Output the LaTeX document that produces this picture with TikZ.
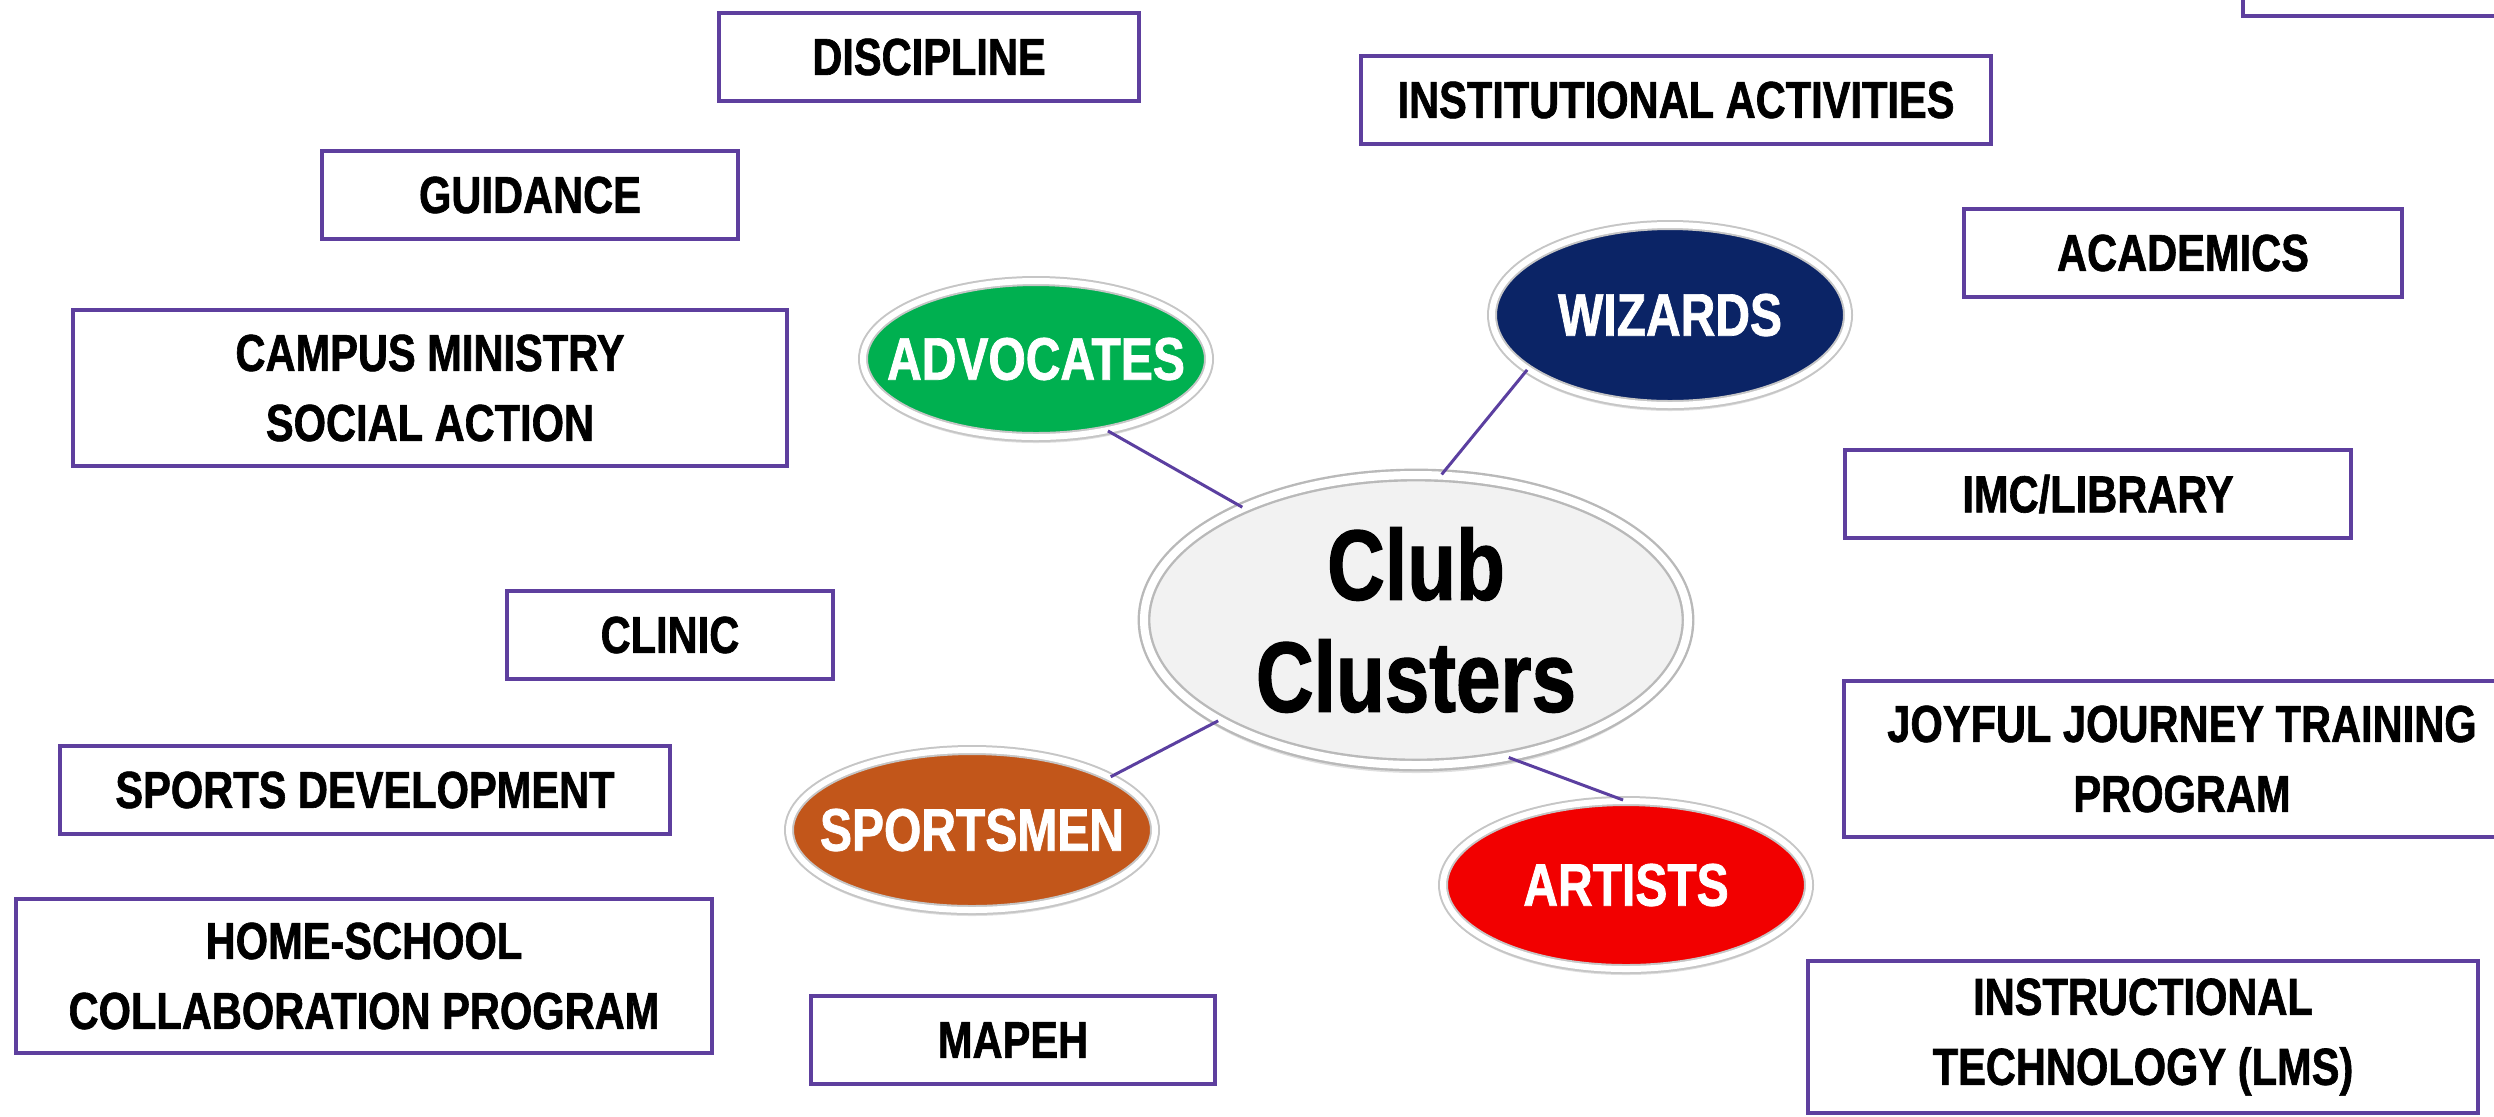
\documentclass[tikz,border=0pt]{standalone}
\usepackage{fontspec}
\setmainfont{Liberation Sans}[FakeStretch=0.8, BoldFeatures={FakeBold=1.2}]
\usetikzlibrary{shapes.geometric,shadows}

\definecolor{boxline}{HTML}{5E3F9E}
\definecolor{linkline}{HTML}{5B3FA0}
\definecolor{advgreen}{HTML}{00B050}
\definecolor{wiznavy}{HTML}{0B2466}
\definecolor{sportbrown}{HTML}{C2561A}
\definecolor{artred}{HTML}{F20000}
\definecolor{hubgray}{HTML}{F2F2F2}

\newcommand{\clab}[1]{\makebox[0pt]{#1}}

\begin{document}
\begin{tikzpicture}[x=0.5pt,y=0.5pt,yscale=-1,xscale=1,
  unitbox/.style={draw=boxline, line width=2pt, fill=white, rectangle, inner sep=0pt,
    minimum height=44pt, align=center, font=\bfseries\fontsize{26}{35}\selectfont},
  cluster/.style={ellipse, fill=#1, draw=gray!45, double=white, double distance=3pt, line width=1pt,
    inner sep=0pt, text=white, font=\bfseries\fontsize{30}{36}\selectfont,
    drop shadow={shadow xshift=0pt, shadow yshift=-3pt, opacity=0.25}},
  link/.style={draw=linkline, line width=1.5pt}]
%uncomment if require: \path (0,1116); %set diagram left start at 0, and has height of 1116
\useasboundingbox (0,0) rectangle (2494,1116);
\clip (0,0) rectangle (2494,1116);

%Shape: Rectangle (cut off at the corner)
\draw [draw=boxline, line width=2pt] (2243,-60) rectangle (2600,16) ;

% Text Node
\node [unitbox, minimum width=210pt] (discipline) at (929,57) {DISCIPLINE};
% Text Node
\node [unitbox, minimum width=315pt] (instact) at (1676,100) {INSTITUTIONAL ACTIVITIES};
% Text Node
\node [unitbox, minimum width=208pt] (guidance) at (530,195) {GUIDANCE};
% Text Node
\node [unitbox, minimum width=219pt] (academics) at (2183,253) {ACADEMICS};
% Text Node
\node [unitbox, minimum width=357pt, minimum height=78pt] (campus) at (430,388) {CAMPUS MINISTRY\\SOCIAL ACTION};
% Text Node
\node [unitbox, minimum width=253pt] (imclib) at (2098,494) {IMC/LIBRARY};
% Text Node
\node [unitbox, minimum width=163pt] (clinic) at (670,635) {CLINIC};
% Text Node
\node [unitbox, minimum width=338pt, minimum height=78pt] (joyful) at (2182,759) {JOYFUL JOURNEY TRAINING\\PROGRAM};
% Text Node
\node [unitbox, minimum width=305pt] (sportsdev) at (365,790) {SPORTS DEVELOPMENT};
% Text Node
\node [unitbox, minimum width=348pt, minimum height=77pt] (homeschool) at (364,976) {HOME-SCHOOL\\COLLABORATION PROGRAM};
% Text Node
\node [unitbox, minimum width=202pt] (mapeh) at (1013,1040) {MAPEH};
% Text Node
\node [unitbox, minimum width=335pt, minimum height=76pt] (instech) at (2143,1037) {INSTRUCTIONAL\\TECHNOLOGY (LMS)};

%Shape: Ellipse
\node [ellipse, fill=hubgray, draw=gray!55, double=white, double distance=4pt, line width=1.2pt,
  minimum width=272pt, minimum height=145pt, inner sep=0pt, align=center,
  font=\bfseries\fontsize{50}{56}\selectfont,
  drop shadow={shadow xshift=0pt, shadow yshift=-4pt, opacity=0.25}] (hub) at (1416,620) {Club\\Clusters};
%Shape: Ellipse
\node [cluster=advgreen, minimum width=173pt, minimum height=78pt] (advocates) at (1036,359) {\clab{ADVOCATES}};
%Shape: Ellipse
\node [cluster=wiznavy, minimum width=178pt, minimum height=90pt] (wizards) at (1670,315) {\clab{WIZARDS}};
%Shape: Ellipse
\node [cluster=sportbrown, minimum width=183pt, minimum height=80pt] (sportsmen) at (972,830) {\clab{SPORTSMEN}};
%Shape: Ellipse
\node [cluster=artred, minimum width=183pt, minimum height=84pt] (artists) at (1626,885) {\clab{ARTISTS}};

%Straight Lines
\draw [link] (advocates.-45) -- (hub.147) ;
%Straight Lines
\draw [link] (wizards.-159) -- (hub.80) ;
%Straight Lines
\draw [link] (sportsmen.21) -- (hub.-153) ;
%Straight Lines
\draw [link] (artists.92) -- (hub.-56) ;
\end{tikzpicture}
\end{document}
